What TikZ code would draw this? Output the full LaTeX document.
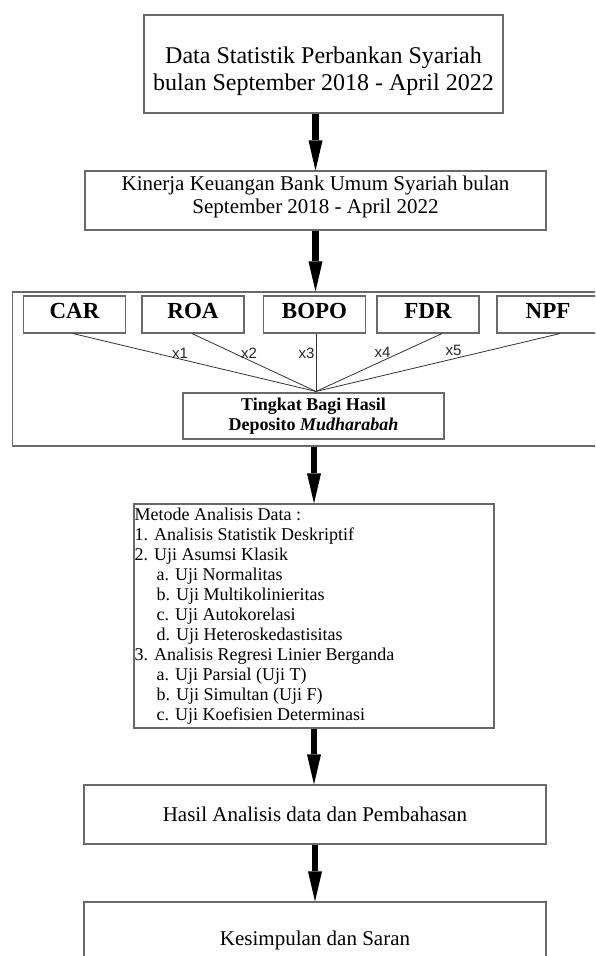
\documentclass[tikz,border=0pt]{standalone}
\usepackage{fontspec}
\setmainfont{Liberation Serif}
\newfontfamily\labelfont{Liberation Sans}
\usetikzlibrary{arrows.meta}
\definecolor{boxgray}{RGB}{105,105,105}
\definecolor{linegray}{RGB}{50,50,50}
\begin{document}
\begin{tikzpicture}[x=1pt,y=-1pt,
  frame/.style={draw=boxgray,line width=1.1pt,inner sep=0pt,rectangle},
  bigarrow/.style={line width=6.5pt,-{Triangle[length=30pt,width=14pt,line width=0pt]}},
  conn/.style={draw=linegray,line width=0.8pt},
  var/.style={frame,minimum width=102pt,minimum height=37pt,
    font=\fontsize{23}{26}\selectfont\bfseries,text height=15pt,text depth=8pt},
  xlab/.style={font=\labelfont\fontsize{15}{17}\selectfont,inner sep=0pt,text=black!85},
  txt/.style={inner sep=0pt}
]
\useasboundingbox (0,0) rectangle (595,956);
\clip (0,0) rectangle (595,956);

% top boxes
\node[frame,minimum width=359pt,minimum height=98pt] (b1) at (323.5,64) {};
\node[txt,align=center,font=\fontsize{24}{27}\selectfont] (b1t) at (323.5,70.9)
  {Data Statistik Perbankan Syariah\\bulan September 2018 - April 2022};
\node[frame,minimum width=461pt,minimum height=59pt] (b2) at (315.5,200.5) {};
\node[txt,align=center,font=\fontsize{21}{23}\selectfont] (b2t) at (315.5,196.7)
  {Kinerja Keuangan Bank Umum Syariah bulan\\September 2018 - April 2022};

% group box
\node[frame,minimum width=597pt,minimum height=154pt] (grp) at (311.35,369) {};
\node[var] (car) at (74.5,314.5) {CAR};
\node[var] (roa) at (193,314.5) {ROA};
\node[var] (bopo) at (314.5,314.5) {BOPO};
\node[var] (fdr) at (428,314.5) {FDR};
\node[var] (npf) at (548,314.5) {NPF};
\node[frame,minimum width=261pt,minimum height=46pt,align=center,
  font=\fontsize{18}{20}\selectfont\bfseries] (tbh) at (313.5,416)
  {Tingkat Bagi Hasil\\Deposito \textit{Mudharabah}};
\coordinate (conv) at ([xshift=2.5pt,yshift=1pt]tbh.north);
\draw[conn] ([xshift=-1.5pt]car.south) -- (conv);
\draw[conn] ([xshift=-1pt]roa.south) -- (conv);
\draw[conn] ([xshift=1.5pt]bopo.south) -- (conv);
\draw[conn] ([xshift=14pt]fdr.south) -- (conv);
\draw[conn] ([xshift=12pt]npf.south) -- (conv);
\node[xlab] (l1) at (180,353) {x1};
\node[xlab] (l2) at (249,353) {x2};
\node[xlab] (l3) at (306.5,353) {x3};
\node[xlab] (l4) at (382.5,352) {x4};
\node[xlab] (l5) at (453.5,350) {x5};

% method box
\node[frame,minimum width=360pt,minimum height=224pt] (met) at (314,616) {};
\node[txt,align=left,anchor=north west,font=\fontsize{18}{20}\selectfont] (mett) at (134.5,507.7)
  {Metode Analisis Data :\\
   1. Analisis Statistik Deskriptif\\
   2. Uji Asumsi Klasik\\
   \hspace*{22pt}a. Uji Normalitas\\
   \hspace*{22pt}b. Uji Multikolinieritas\\
   \hspace*{22pt}c. Uji Autokorelasi\\
   \hspace*{22pt}d. Uji Heteroskedastisitas\\
   3. Analisis Regresi Linier Berganda\\
   \hspace*{22pt}a. Uji Parsial (Uji T)\\
   \hspace*{22pt}b. Uji Simultan (Uji F)\\
   \hspace*{22pt}c. Uji Koefisien Determinasi};

% bottom boxes
\node[frame,minimum width=462pt,minimum height=59pt,font=\fontsize{21}{23}\selectfont] (has) at (315,814.5)
  {Hasil Analisis data dan Pembahasan};
\node[frame,minimum width=462pt,minimum height=76pt,font=\fontsize{21}{23}\selectfont] (kes) at (315,940)
  {Kesimpulan dan Saran};

% arrows
\draw[bigarrow] (b2.north |- b1.south) -- (b2.north);
\draw[bigarrow] (b2.south) -- (b2.south |- grp.north);
\draw[bigarrow] (met.north |- grp.south) -- (met.north);
\draw[bigarrow] (met.south) -- (met.south |- has.north);
\draw[bigarrow] (has.south) -- (kes.north);
\end{tikzpicture}
\end{document}
